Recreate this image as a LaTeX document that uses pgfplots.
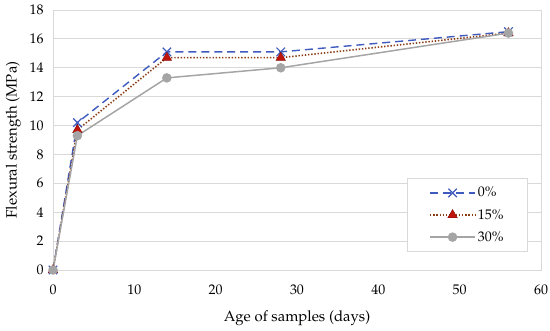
\documentclass[border=0pt]{standalone}
\usepackage[T1]{fontenc}
\usepackage{mathpazo}
\usepackage{pgfplots}
\pgfplotsset{compat=1.18}
\definecolor{cBlue}{RGB}{63,90,190}
\definecolor{cBrown}{RGB}{140,60,20}
\definecolor{cRed}{RGB}{192,20,10}
\definecolor{cGray}{RGB}{165,165,165}
\definecolor{gridc}{RGB}{217,217,217}
\begin{document}
\begin{tikzpicture}
\begin{axis}[
  name=ax, at={(0,0)}, anchor=south west,
  scale only axis, width=488bp, height=260bp,
  xmin=0, xmax=60, ymin=0, ymax=18,
  xtick={0,10,...,60}, ytick={0,2,...,18},
  ymajorgrids, major grid style={gridc, line width=0.8pt},
  axis line style={gridc, line width=0.8pt},
  tick style={draw=none},
  tick label style={font=\fontsize{14}{16}\selectfont},
  xticklabel style={yshift=-11pt},
  yticklabel style={xshift=-6pt},
  label style={font=\fontsize{15}{17}\selectfont},
  xlabel={Age of samples (days)}, ylabel={Flexural strength (MPa)},
  xlabel style={yshift=-9pt},
  ylabel style={yshift=2pt},
  clip=false,
  legend style={at={(0.973,0.354)}, anchor=north east, draw=gridc, line width=0.8pt,
    font=\fontsize{14}{16}\selectfont, row sep=7pt, inner xsep=22pt, inner ysep=7pt},
  legend cell align=left,
  legend image code/.code={
    \draw[#1] (0bp,0bp) -- (45bp,0bp);
    \draw[#1, only marks] plot coordinates {(22.5bp,0bp)};
  },
]
\addplot[cBlue, dashed, dash pattern=on 8pt off 5pt, line width=1.4pt, mark=x, mark size=6pt, mark options={solid, line width=1.2pt}]
  coordinates {(0,0) (3,10.2) (14,15.1) (28,15.1) (56,16.5)};
\addlegendentry{0\%}
\addplot[cBrown, dotted, dash pattern=on 1.4pt off 1.8pt, line width=1.6pt, mark=triangle*, mark size=5.5pt, mark options={solid, fill=cRed, draw=cRed!70!black, line width=0.4pt}]
  coordinates {(0,0) (3,9.7) (14,14.7) (28,14.7) (56,16.4)};
\addlegendentry{15\%}
\addplot[cGray, line width=1.5pt, mark=*, mark size=4pt, mark options={solid, fill=cGray}]
  coordinates {(0,0) (3,9.3) (14,13.3) (28,14.0) (56,16.4)};
\addlegendentry{30\%}
\end{axis}
\pgfresetboundingbox
\path (ax.south west) ++(-53bp,-61bp) coordinate (bl);
\path (ax.north east) ++(9bp,10bp) coordinate (tr);
\path (bl) rectangle (tr);
\end{tikzpicture}
\end{document}
